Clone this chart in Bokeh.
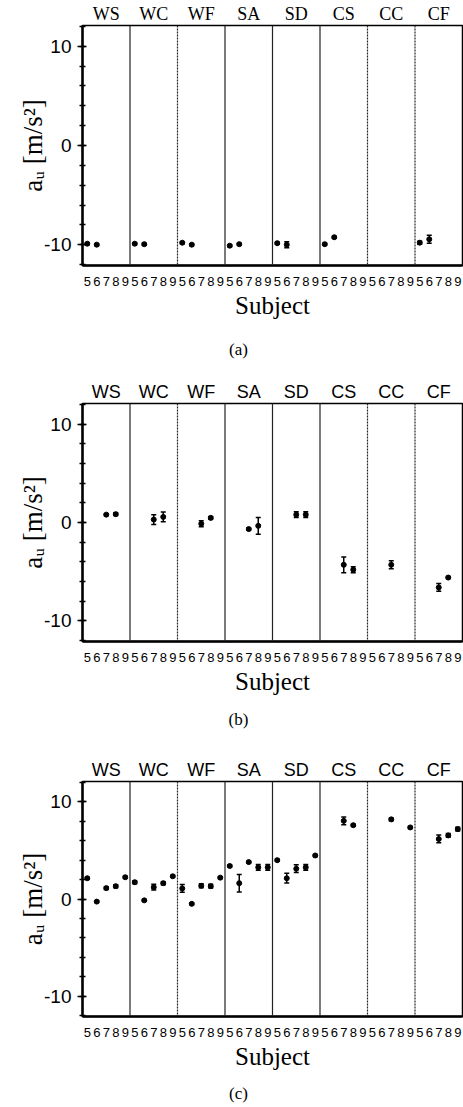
import math
from bokeh.plotting import figure
from bokeh.models import (Range1d, FixedTicker, Whisker, TeeHead, ColumnDataSource,
                          Span, LinearAxis)
from bokeh.layouts import column
from bokeh.embed import file_html
from bokeh.resources import INLINE

nan = float("nan")

groups = ["WS", "WC", "WF", "SA", "SD", "CS", "CC", "CF"]
subjects = [5, 6, 7, 8, 9]
y_ticks = [-10, 0, 10]
y_title = "a\u1d64 [m/s\u00b2]"
x_title = "Subject"

# ---- panel (a): rows = groups, columns = subjects 5..9
a_mean = [
    [-9.9, -10.0, nan, nan, nan],   # WS
    [-9.9, -9.95, nan, nan, nan],   # WC
    [-9.8, -10.0, nan, nan, nan],   # WF
    [-10.1, -9.95, nan, nan, nan],  # SA
    [-9.85, -10.0, nan, nan, nan],  # SD
    [-9.95, -9.25, nan, nan, nan],  # CS
    [nan, nan, nan, nan, nan],      # CC
    [-9.8, -9.45, nan, nan, nan],   # CF
]
a_err = [
    [0.1, 0.1, nan, nan, nan],
    [0.1, 0.1, nan, nan, nan],
    [0.1, 0.1, nan, nan, nan],
    [0.1, 0.1, nan, nan, nan],
    [0.1, 0.3, nan, nan, nan],
    [0.1, 0.1, nan, nan, nan],
    [nan, nan, nan, nan, nan],
    [0.15, 0.4, nan, nan, nan],
]

# ---- panel (b)
b_mean = [
    [nan, nan, 0.8, 0.85, nan],
    [nan, nan, 0.3, 0.57, nan],
    [nan, nan, -0.13, 0.47, nan],
    [nan, nan, -0.67, -0.34, nan],
    [nan, nan, 0.8, 0.8, nan],
    [nan, nan, -4.3, -4.8, nan],
    [nan, nan, -4.3, nan, nan],
    [nan, nan, -6.6, -5.6, nan],
]
b_err = [
    [nan, nan, 0.1, 0.15, nan],
    [nan, nan, 0.5, 0.5, nan],
    [nan, nan, 0.3, 0.15, nan],
    [nan, nan, 0.1, 0.85, nan],
    [nan, nan, 0.3, 0.3, nan],
    [nan, nan, 0.8, 0.3, nan],
    [nan, nan, 0.4, nan, nan],
    [nan, nan, 0.4, 0.1, nan],
]

# ---- panel (c)
c_mean = [
    [2.14, -0.27, 1.12, 1.32, 2.24],
    [1.73, -0.14, 1.22, 1.63, 2.34],
    [1.09, -0.5, 1.36, 1.32, 2.2],
    [3.4, 1.63, 3.8, 3.26, 3.26],
    [4.0, 2.14, 3.12, 3.26, 4.48],
    [nan, nan, 8.05, 7.6, nan],
    [nan, nan, 8.2, nan, 7.37],
    [nan, nan, 6.18, 6.55, 7.2],
]
c_err = [
    [0.1, 0.1, 0.15, 0.15, 0.1],
    [0.15, 0.1, 0.3, 0.15, 0.1],
    [0.4, 0.1, 0.2, 0.2, 0.1],
    [0.1, 0.9, 0.1, 0.3, 0.3],
    [0.1, 0.5, 0.4, 0.3, 0.1],
    [nan, nan, 0.4, 0.1, nan],
    [nan, nan, 0.15, nan, 0.1],
    [nan, nan, 0.4, 0.2, 0.2],
]

YLIM = 12.1
W = 463
LEFT = 82
RIGHT = 1
NX = len(groups) * len(subjects)


def text_axis(ticks, names, font, size, standoff):
    return LinearAxis(ticker=FixedTicker(ticks=ticks),
                      major_label_overrides={t: n for t, n in zip(ticks, names)},
                      axis_line_color=None, major_tick_line_color=None,
                      minor_tick_line_color=None, major_tick_in=0,
                      major_tick_out=0, minor_tick_in=0, minor_tick_out=0,
                      major_label_standoff=standoff,
                      major_label_text_font=font,
                      major_label_text_font_size=size,
                      major_label_text_color="black")


def make_panel(mean, err, caption, group_font, height, b_top, b_bottom, cap_standoff):
    px = (W - LEFT - RIGHT) / NX

    p = figure(width=W, height=height, x_range=Range1d(0, NX),
               y_range=Range1d(-YLIM, YLIM), output_backend="svg",
               toolbar_location=None, min_border_left=LEFT,
               min_border_right=RIGHT, min_border_top=b_top,
               min_border_bottom=b_bottom)
    p.title.visible = False
    p.grid.visible = False
    p.background_fill_color = "white"
    p.border_fill_color = "white"
    p.outline_line_color = "black"
    p.outline_line_width = 1.5

    xs, ys, lo, hi = [], [], [], []
    ticks, overrides = [], {}
    for g, name in enumerate(groups):
        for k, s in enumerate(subjects):
            xv = g * len(subjects) + k + 0.5
            ticks.append(xv)
            overrides[xv] = str(s)
            m = mean[g][k]
            if not math.isnan(m):
                e = err[g][k]
                xs.append(xv)
                ys.append(m)
                lo.append(m - e)
                hi.append(m + e)
    src = ColumnDataSource(dict(x=xs, y=ys, lower=lo, upper=hi))

    # group separators
    for g in range(1, len(groups)):
        dashed = g in (2, 6, 7)
        p.add_layout(Span(location=g * len(subjects), dimension="height",
                          line_color="#222222", line_width=1.2,
                          line_dash="2 1" if dashed else "solid"))

    p.add_layout(Whisker(source=src, base="x", lower="lower", upper="upper",
                         line_color="black", line_width=1.5,
                         upper_head=TeeHead(size=5, line_width=1.5, line_color="black"),
                         lower_head=TeeHead(size=5, line_width=1.5, line_color="black")))
    p.scatter("x", "y", source=src, size=5, color="black")

    # y axis
    ya = p.yaxis[0]
    ya.ticker = FixedTicker(ticks=y_ticks, minor_ticks=list(range(-12, 13, 2)))
    ya.major_label_overrides = {-10: "-10", 0: "0", 10: "10"}
    ya.major_label_text_font = "Liberation Sans"
    ya.major_label_text_font_size = "19px"
    ya.major_label_text_color = "black"
    ya.major_label_standoff = 6
    ya.axis_line_width = 2.5
    ya.axis_line_color = "black"
    ya.major_tick_in = 4
    ya.major_tick_out = 5
    ya.minor_tick_in = 3
    ya.minor_tick_out = 3
    ya.major_tick_line_width = 1.5
    ya.minor_tick_line_width = 1.5
    ya.major_tick_line_color = "black"
    ya.minor_tick_line_color = "black"
    ya.axis_label = y_title
    ya.axis_label_text_font = "Liberation Serif"
    ya.axis_label_text_font_size = "27px"
    ya.axis_label_text_font_style = "normal"
    ya.axis_label_text_color = "black"
    ya.axis_label_standoff = -7

    # x axis
    xa = p.xaxis[0]
    xa.ticker = FixedTicker(ticks=ticks)
    xa.major_label_overrides = overrides
    xa.major_label_text_font = "Liberation Sans"
    xa.major_label_text_font_size = "13px"
    xa.major_label_text_color = "black"
    xa.major_label_standoff = 11
    xa.major_tick_in = 0
    xa.major_tick_out = 0
    xa.minor_tick_in = 0
    xa.minor_tick_out = 0
    xa.major_tick_line_color = None
    xa.minor_tick_line_color = None
    xa.axis_line_width = 2.5
    xa.axis_line_color = "black"
    xa.axis_label = x_title
    xa.axis_label_text_font = "Liberation Serif"
    xa.axis_label_text_font_size = "25px"
    xa.axis_label_text_font_style = "normal"
    xa.axis_label_text_color = "black"
    xa.axis_label_standoff = 3

    # group names above the frame (an axis with named ticks)
    centers = [g * len(subjects) + len(subjects) / 2 for g in range(len(groups))]
    p.add_layout(text_axis(centers, groups, group_font, "18px", 2), "above")

    # caption below (an axis with one named tick)
    cap_x = (238 - LEFT) / px
    p.add_layout(text_axis([cap_x], [caption], "Liberation Serif", "17px",
                           cap_standoff), "below")
    return p


pa = make_panel(a_mean, a_err, "(a)", "Liberation Serif", 378, 24, 113, 18)
pb = make_panel(b_mean, b_err, "(b)", "Liberation Sans", 378, 25, 115, 12)
pc = make_panel(c_mean, c_err, "(c)", "Liberation Sans", 351, 24, 91, 11)

layout = column(pa, pb, pc, spacing=0)
open("out.html", "w").write(file_html(layout, INLINE))
